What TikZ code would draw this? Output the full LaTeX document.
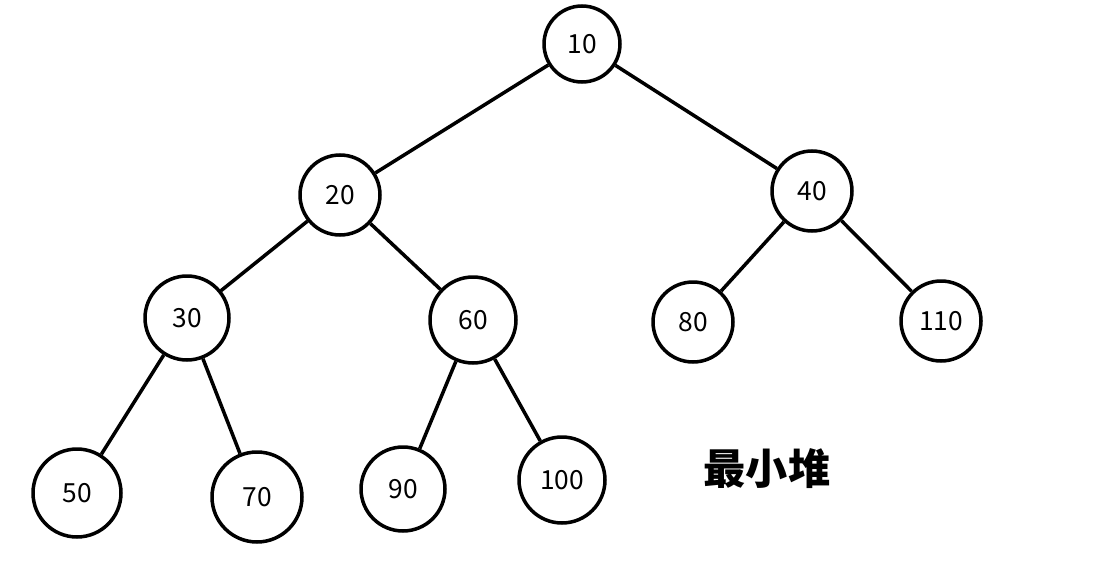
\documentclass[tikz,border=0pt]{standalone}
\usepackage{fontspec}
\setmainfont{Noto Sans CJK SC}
\tikzstyle{heap_n} = [circle, draw=black, line width=2pt, align=center, inner sep=0pt, minimum size=1.6cm, font=\fontsize{15}{17}\selectfont]
\tikzstyle{heap_e} = [line width=2pt]
\begin{document}
\begin{tikzpicture}[x=0.02cm,y=-0.02cm]
\useasboundingbox (0,0) rectangle (1102,571);
\node [heap_n, minimum size=1.52cm] (n10) at (582,44) {10};
\node [heap_n] (n20) at (340,195) {20};
\node [heap_n] (n40) at (812,191) {40};
\node [heap_n, minimum size=1.68cm] (n30) at (187,318) {30};
\node [heap_n, minimum size=1.72cm] (n60) at (473,320) {60};
\node [heap_n] (n80) at (693,322) {80};
\node [heap_n] (n110) at (941,321) {110};
\node [heap_n, minimum size=1.76cm] (n50) at (77,493) {50};
\node [heap_n, minimum size=1.8cm] (n70) at (257,497) {70};
\node [heap_n, minimum size=1.68cm] (n90) at (403,489) {90};
\node [heap_n, minimum size=1.72cm] (n100) at (562,480) {100};
\node [font=\fontsize{24}{28}\selectfont\bfseries] (title) at (767,469) {最小堆};
% edges
\draw [heap_e] (n10) -- (n20);
\draw [heap_e] (n10) -- (n40);
\draw [heap_e] (n20) -- (n30);
\draw [heap_e] (n20) -- (n60);
\draw [heap_e] (n40) -- (n80);
\draw [heap_e] (n40) -- (n110);
\draw [heap_e] (n30) -- (n50);
\draw [heap_e] (n30) -- (n70);
\draw [heap_e] (n60) -- (n90);
\draw [heap_e] (n60) -- (n100);
\end{tikzpicture}
\end{document}
